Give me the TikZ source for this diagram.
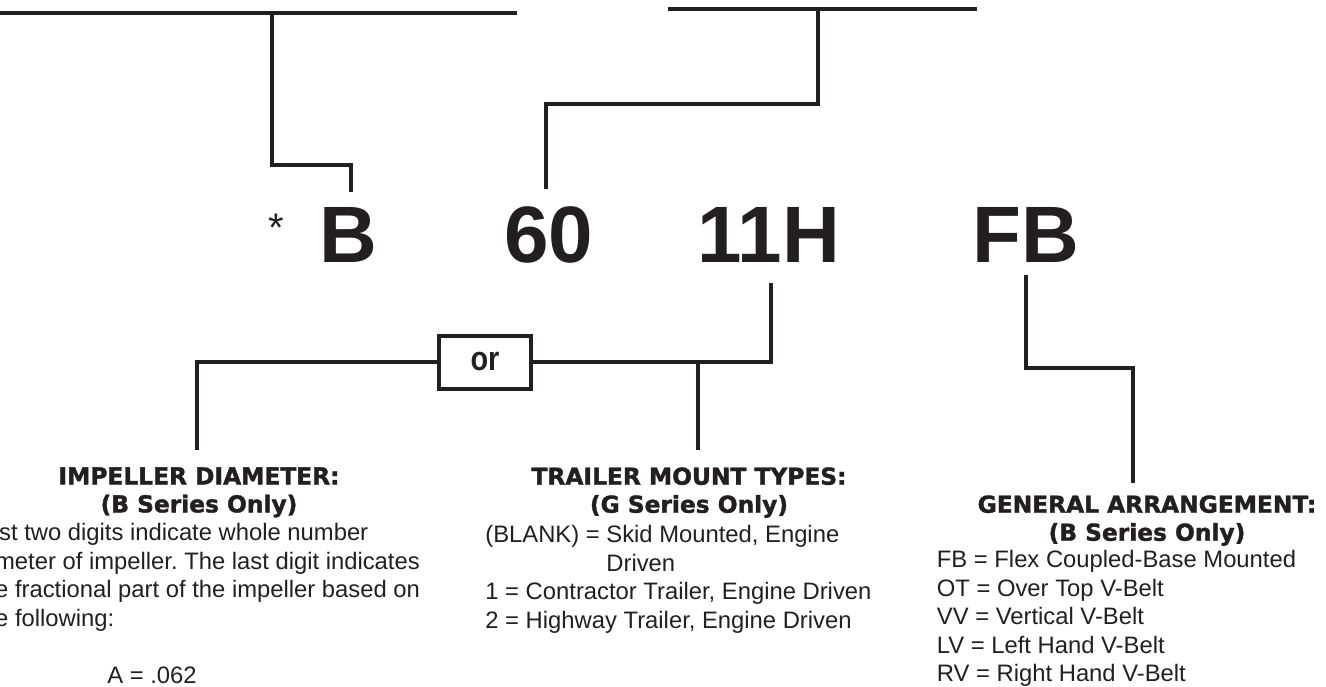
\documentclass[tikz,border=0pt]{standalone}
\usepackage{fontspec}
\setmainfont{Liberation Sans}
\newfontfamily\headfont{DejaVu Sans}[BoldFeatures={FakeBold=1.6}]
\newfontfamily\orfont{Liberation Sans}[FakeStretch=0.85]
\usetikzlibrary{positioning}
\frenchspacing

\definecolor{ink}{HTML}{231F20}

\tikzset{
	wire/.style={line width=2pt, draw=ink},
	codeletter/.style={font=\bfseries\fontsize{40}{48}\selectfont, text=ink, inner sep=0pt, anchor=base},
	headtext/.style={font=\headfont\bfseries\fontsize{11.66}{14}\selectfont, text=ink, align=center, inner sep=0pt, anchor=north},
	notetext/.style={font=\fontsize{11.9}{14.25}\selectfont, text=ink, align=left, inner sep=0pt, anchor=north west},
}

\begin{document}
\begin{tikzpicture}[x=0.5pt,y=-0.5pt]
	\useasboundingbox (0,0) rectangle (1326,686);
	\clip (0,0) rectangle (1326,686);

	\node[font=\fontsize{20}{24}\selectfont, text=ink, inner sep=0pt, anchor=north] (star) at (276,214) {*};
	\node[codeletter] (b) at (348,262) {B};
	\node[codeletter] (sixty) at (549,262) {60};
	\node[codeletter] (eleven) at (769,262) {11H};
	\node[codeletter] (fb) at (1026,262) {FB};

	\draw[wire] (0,12.5) -- (517,12.5);
	\draw[wire] (668,8.5) -- (977,8.5);
	\coordinate (bin) at ([xshift=1.5pt,yshift=7.5pt]b.north);
	\coordinate (sixtyin) at ([xshift=-1.5pt,yshift=8.5pt]sixty.north);
	\draw[wire] (272,12.5) -- (272,165) -| (bin);
	\draw[wire] (818,8.5) -- (818,104) -| (sixtyin);

	\node[draw=ink, line width=2pt, minimum width=46pt, minimum height=26.5pt, inner sep=0pt,
		font=\orfont\bfseries\fontsize{17}{20}\selectfont, text=ink] (orbox) at (485,362) {or};

	\node[headtext] (impel) at (199,467) {IMPELLER DIAMETER:\\(B Series Only)};
	\node[headtext] (trailer) at (689,467) {TRAILER MOUNT TYPES:\\(G Series Only)};
	\node[headtext] (general) at (1147,495) {GENERAL ARRANGEMENT:\\(B Series Only)};

	\coordinate (elevenout) at ([xshift=1pt,yshift=-10.5pt]eleven.south);
	\coordinate (impelin) at ([xshift=-1pt,yshift=8.5pt]impel.north);
	\coordinate (trailerin) at ([xshift=4.5pt,yshift=8.5pt]trailer.north);
	\coordinate (fbout) at ([yshift=-6.5pt]fb.south);
	\coordinate (generalin) at ([xshift=-7pt,yshift=6pt]general.north);
	\draw[wire] (elevenout) |- (orbox.east);
	\draw[wire] (orbox.west) -| (impelin);
	\draw[wire] (trailerin |- orbox.east) -- (trailerin);
	\draw[wire] (fbout) -- ++(0,93) -| (generalin);

	\node[notetext] (impelnote) at (-29,523) {First two digits indicate whole number\\\hspace*{-4pt}diameter of impeller. The last digit indicates\\\hspace*{2pt}the fractional part of the impeller based on\\\hspace*{2pt}the following:\\[14.25pt]\hspace*{68pt}A = .062};
	\node[notetext] (trailernote) at (485,525) {(BLANK) = Skid Mounted, Engine\\\phantom{(BLANK) = }Driven\\1 = Contractor Trailer, Engine Driven\\2 = Highway Trailer, Engine Driven};
	\node[notetext] (generalnote) at (936.5,550) {FB = Flex Coupled-Base Mounted\\OT = Over Top V-Belt\\VV = Vertical V-Belt\\LV = Left Hand V-Belt\\RV = Right Hand V-Belt};
\end{tikzpicture}
\end{document}
